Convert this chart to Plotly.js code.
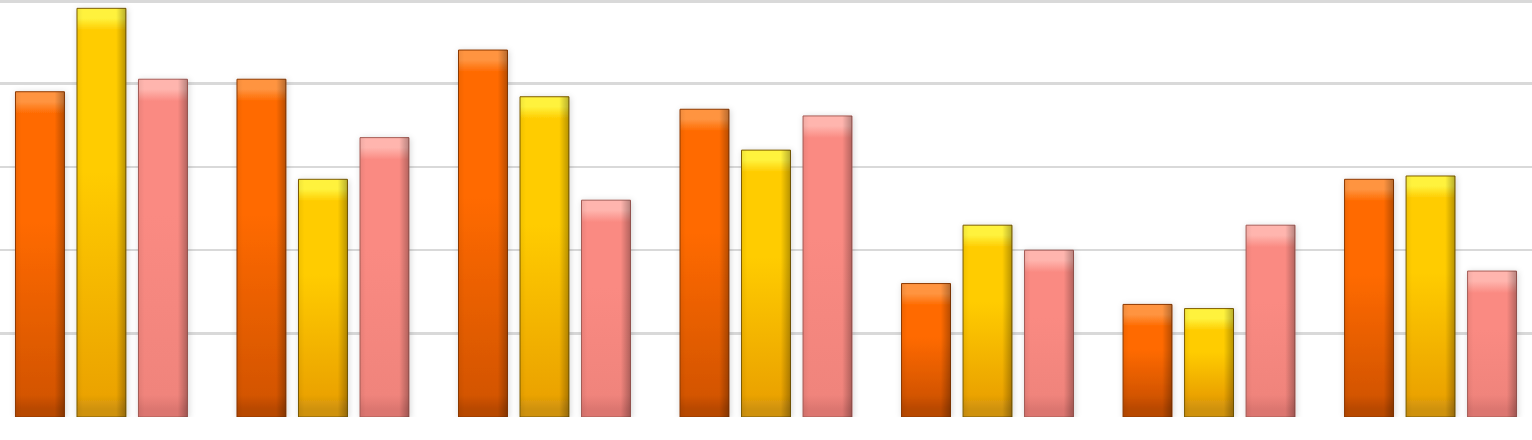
<!DOCTYPE html>
<html>
<head>
<meta charset="utf-8">
<script src="https://cdn.plot.ly/plotly-3.0.1.min.js"></script>
<style>
  html, body { margin: 0; padding: 0; background: #fff; }
  #chart { width: 1532px; height: 440px; }
</style>
</head>
<body>
<div id="chart"></div>
<script>
const categories = ['1', '2', '3', '4', '5', '6', '7']
const series1 = [3.90, 4.05, 4.40, 3.69, 1.60, 1.35, 2.85]
const series2 = [4.90, 2.85, 3.84, 3.20, 2.30, 1.30, 2.89]
const series3 = [4.05, 3.35, 2.60, 3.61, 2.00, 2.30, 1.75]

// cap highlight, top, bottom, bottom cap, edge colour per series
const fills = [
  ['#ff9440', '#ff6a00', '#d45500', '#b84800', '#8f3a00'],
  ['#fff23c', '#ffcc00', '#eba300', '#cf9210', '#7f5e00'],
  ['#ffb5ae', '#fa8a82', '#f0847c', '#dc7670', '#a85e58']
]

function barTrace(name, values, i) {
  return {
    type: 'bar',
    name: name,
    x: categories,
    y: values,
    marker: { color: fills[i][1], line: { color: fills[i][4], width: 1 } },
    hoverinfo: 'y'
  }
}

const traces = [
  barTrace('Series 1', series1, 0),
  barTrace('Series 2', series2, 1),
  barTrace('Series 3', series3, 2)
]

const layout = {
  width: 1532,
  height: 440,
  margin: { l: 0, r: 0, t: 0, b: 23 },
  paper_bgcolor: '#ffffff',
  plot_bgcolor: '#ffffff',
  showlegend: false,
  barmode: 'group',
  bargap: 0.167,
  bargroupgap: 0.204,
  xaxis: {
    type: 'category',
    range: [-0.458, 6.458],
    showticklabels: false,
    showgrid: false,
    zeroline: false,
    showline: false,
    ticks: ''
  },
  yaxis: {
    range: [0, 5],
    // the top line sits just inside the edge so plotly keeps it
    tickvals: [1, 2, 3, 4, 4.985],
    showticklabels: false,
    showgrid: true,
    gridcolor: '#d9d9d9',
    gridwidth: 2.5,
    zeroline: false,
    showline: false,
    ticks: ''
  }
}

Plotly.newPlot('chart', traces, layout, { staticPlot: true }).then(gd => {
  // bevel-like shading and soft shadow on the bars
  const ns = 'http://www.w3.org/2000/svg'
  const svg = gd.querySelector('svg.main-svg')
  let defs = svg.querySelector('defs')
  if (!defs) {
    defs = document.createElementNS(ns, 'defs')
    svg.insertBefore(defs, svg.firstChild)
  }
  const mk = (tag, attrs) => {
    const el = document.createElementNS(ns, tag)
    Object.keys(attrs).forEach(k => el.setAttribute(k, attrs[k]))
    return el
  }
  const filt = mk('filter', { id: 'barshadow', x: '-20%', y: '-5%', width: '140%', height: '110%' })
  filt.appendChild(mk('feDropShadow', {
    dx: 1, dy: 1, stdDeviation: 3, 'flood-color': '#000', 'flood-opacity': 0.16
  }))
  defs.appendChild(filt)

  // horizontal edge shading, drawn over each bar
  const side = mk('linearGradient', { id: 'barside', x1: 0, y1: 0, x2: 1, y2: 0 })
  ;[[0, '#000', 0.06], [0.12, '#000', 0], [0.8, '#000', 0], [1, '#000', 0.28]].forEach(s => {
    side.appendChild(mk('stop', { offset: s[0], 'stop-color': s[1], 'stop-opacity': s[2] }))
  })
  defs.appendChild(side)

  const cap = 20
  let n = 0
  gd.querySelectorAll('.barlayer .trace').forEach((t, i) => {
    const f = fills[i]
    t.querySelectorAll('path').forEach(p => {
      const h = p.getBBox().height
      const c = Math.min(cap / h, 0.2)
      const stops = [
        [0, f[0]], [c * 0.5, f[0]], [c * 1.1, f[1]],
        [0.4, f[1]], [1 - c * 1.1, f[2]], [1 - c * 0.4, f[3]], [1, f[3]]
      ]
      const g = mk('linearGradient', { id: 'barfill' + n, x1: 0, y1: 0, x2: 0, y2: 1 })
      stops.forEach(s => g.appendChild(mk('stop', { offset: s[0], 'stop-color': s[1] })))
      defs.appendChild(g)
      p.style.fill = 'url(#barfill' + n + ')'
      p.setAttribute('filter', 'url(#barshadow)')
      const over = p.cloneNode(true)
      over.removeAttribute('filter')
      over.style.fill = 'url(#barside)'
      over.style.stroke = 'none'
      p.parentNode.insertBefore(over, p.nextSibling)
      n++
    })
  })
})
</script>
</body>
</html>
